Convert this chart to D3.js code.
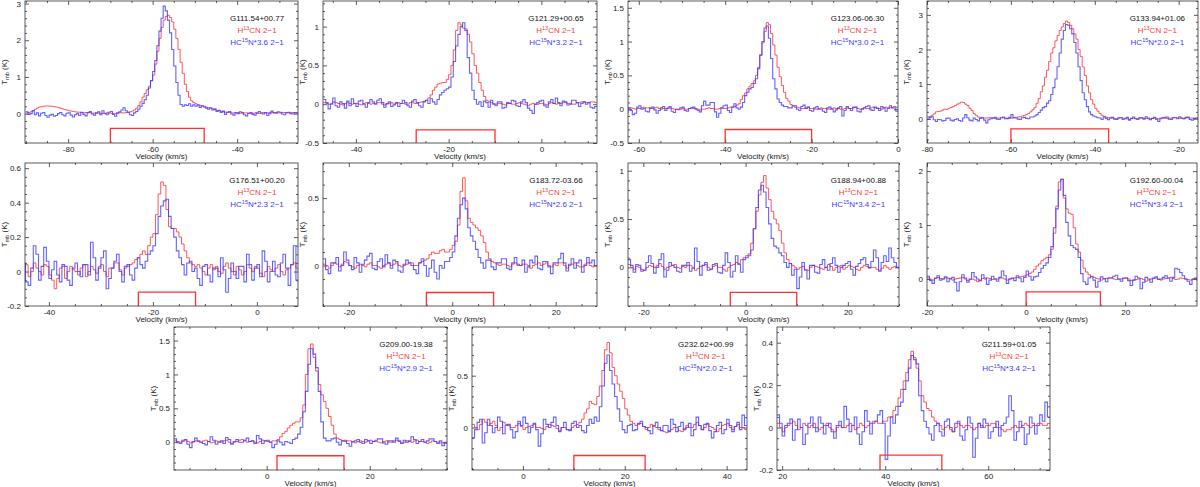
<!DOCTYPE html>
<html>
<head>
<meta charset="utf-8">
<script src="https://cdn.jsdelivr.net/npm/d3@7"></script>
<style>
  body { margin: 0; background: #fff; }
  svg { display: block; }
  text { font-family: "Liberation Sans", Arial, sans-serif; }
</style>
</head>
<body>
<svg></svg>
<script>
// source names and HC15N scale factors
let sources = ["G111.54+00.77","G121.29+00.65","G123.06-06.30","G133.94+01.06",
               "G176.51+00.20","G183.72-03.66","G188.94+00.88","G192.60-00.04",
               "G209.00-19.38","G232.62+00.99","G211.59+01.05"];
let scaleFactors = ["3.6","3.2","3.0","2.0","2.3","2.6","3.4","3.4","2.9","2.0","3.4"];

// first channel edge (km/s) and channel width (km/s)
let vStart = [-90,-47,-63,-80,-45,-25,-23,-20,-18,-10,19];
let chanWidth = 0.5;

// H13CN 2-1 spectra (K)
let h13cn = [
  [0.02,0.03,0.05,0.08,0.12,0.15,0.18,0.19,0.2,0.21, 0.21,0.2,0.2,0.19,0.18,0.17,0.15,0.13,0.11,0.1,
   0.08,0.07,0.06,0.05,0.04,0.04,0.03,0.02,0.03,0.02, 0.03,0.01,0.02,0.01,0.02,0,0.01,0,0.02,0.01,
   0.01,0,0,0.01,0.03,0.02,0.02,0.03,0.04,0.05, 0.07,0.1,0.15,0.22,0.32,0.45,0.55,0.65,0.75,0.9,
   1.05,1.35,1.7,2.05,2.35,2.55,2.65,2.68,2.62,2.5, 2.3,2.05,1.75,1.4,1.1,0.8,0.6,0.45,0.35,0.3,
   0.27,0.25,0.23,0.22,0.2,0.18,0.16,0.15,0.13,0.11, 0.09,0.08,0.06,0.05,0.04,0.04,0.03,0.02,0.02,0.03,
   0.03,0.01,0.01,0.02,0.02,0.01,0,0.01,0.02,0.01, 0.01,0.02,0.03,0.02,0.02,0.03,0.04,0.03,0.03,0.02,
   0.02,0.03,0.03,0.02,0.02,0.03,0.03,0.02,0.02,0.02],
  [0.02,0.01,0,0.01,0.03,0.02,0.01,0,-0.01,0.01, 0.02,0.01,0,0.01,0.01,0,-0.01,0.01,0.02,0.01,
   0,0.01,0.01,0.02,0.02,0,-0.01,0,0.01,0.02, 0,0.01,0.02,0.01,0.01,0,0,0.02,0.02,0.01,
   0.01,0.02,0.03,0.04,0.05,0.08,0.12,0.18,0.22,0.26, 0.27,0.28,0.28,0.32,0.38,0.5,0.7,0.95,1.05,1.02,
   0.98,0.97,0.9,0.8,0.65,0.5,0.4,0.28,0.18,0.1, 0.05,0.03,0.02,0.01,0,0.01,0.01,0,-0.01,0.01,
   0.01,0,0,0.01,0.02,0.01,0,-0.01,-0.02,0, 0.01,0,0,0.01,0.01,0,-0.01,0.01,0.02,0.01,
   0,0.01,0.01,0.02,0.02,0.01,0.01,0,0,0.02, 0.02,0.03,0.03,0.02,0.02,0.03,0.03,0.02],
  [0.01,0.02,0.02,0.01,0,0.01,0.01,0.02,0.03,0.02, 0.02,0.01,0.01,0.02,0.03,0.01,0,0.01,0.01,0.02,
   0.02,0.01,0,0,-0.01,0,0.01,0,0,0.01, 0.02,0.01,0.01,0,-0.01,0,0,0.01,0.02,0.01,
   0.01,0,0,0.01,0.02,0.01,0.01,0.02,0.03,0.03, 0.04,0.06,0.08,0.14,0.2,0.24,0.3,0.34,0.38,0.42,
   0.5,0.62,0.8,0.98,1.15,1.28,1.25,1.12,0.95,0.8, 0.62,0.48,0.35,0.25,0.16,0.12,0.07,0.05,0.03,0.03,
   0.02,0.01,0.01,0.02,0.03,0.01,0.01,0,0,0.01, 0.02,0.01,0.01,0,0,0.01,0.02,0.01,0.01,0,
   0,0.01,0.02,0.01,0.01,0.02,0.03,0.01,0,0.01, 0.02,0.01,0.01,0.02,0.03,0.02,0.02,0.01,0,0.02,
   0.03,0.02,0.02,0.03,0.04,0.03],
  [0.05,0.06,0.1,0.14,0.2,0.21,0.22,0.25,0.28,0.27, 0.3,0.32,0.35,0.38,0.42,0.45,0.48,0.47,0.42,0.38,
   0.3,0.24,0.15,0.1,0.05,0.04,0.03,0.02,0.02,0.03, 0.03,0.02,0.01,0.02,0.02,0.03,0.03,0.02,0,0.01,
   0.02,0.03,0.04,0.05,0.06,0.08,0.1,0.12,0.15,0.2, 0.26,0.32,0.45,0.58,0.78,0.95,1.2,1.4,1.65,1.9,
   2.05,2.25,2.4,2.55,2.65,2.75,2.82,2.78,2.7,2.6, 2.45,2.3,2.0,1.8,1.5,1.25,0.95,0.75,0.55,0.42,
   0.3,0.22,0.15,0.1,0.07,0.05,0.03,0.03,0.02,0.01, 0,0.02,0.03,0.02,0.01,0,-0.02,0,0.02,0.01,
   0,0.02,0.03,0.01,0.01,0,-0.01,0.01,0.02,0.01, 0,0.02,0.03,0.02,0.01,0.02,0.02,0.03,0.04,0.02,
   0.02,0.01,0,0.02,0.03,0.02,0.02,0.01,0.01,0.02, 0.02,0.01],
  [0.02,0.04,-0.03,0,0.05,0.02,0,-0.02,0.04,0.03, -0.02,-0.05,-0.1,-0.04,0.02,0.03,-0.04,0,0.03,0.01,
   0,-0.02,0.02,0.04,-0.03,0,0.03,0.01,-0.01,0.03, 0.04,0,-0.03,0.02,0.02,0.05,0.05,0.01,-0.02,0.02,
   0.03,0.04,0.05,0.07,0.08,0.1,0.12,0.1,0.15,0.2, 0.22,0.33,0.45,0.52,0.5,0.36,0.26,0.25,0.25,0.23,
   0.2,0.16,0.12,0.08,0.05,0.04,0.03,0.04,0.02,0, -0.02,0.02,0.04,0.01,0.03,0,-0.01,0.03,0.05,0.02,
   0,-0.02,0.03,0.01,-0.02,0,0.04,0.02,0,0.03, 0.02,-0.01,-0.03,0,0.03,0.01,0,0.02,0.04,0,
   -0.02,0.01,0.02,0.04,0.05,0.02],
  [0.01,0,-0.02,0,0.02,0.01,-0.01,0.01,0.03,0.02, 0,-0.01,-0.02,0,0.01,0,-0.01,0.01,0.02,0,
   0,-0.01,-0.02,0,0.01,0.02,0,0.01,0.02,0, -0.01,0,0.01,0.02,0.02,0,0,0.02,0.03,0.04,
   0.05,0.08,0.1,0.09,0.09,0.11,0.12,0.1,0.1,0.12, 0.15,0.18,0.3,0.55,0.65,0.48,0.35,0.32,0.3,0.28,
   0.26,0.22,0.17,0.1,0.05,0.03,0.02,0.01,0,0.01, 0.01,0,-0.01,0.01,0.02,0,0,0.01,0.01,0,
   -0.02,0,0.01,0.02,0,0.01,0.02,0,-0.01,0.01, 0,0.02,0.02,0,-0.02,0,0.01,0.02,0,-0.01,
   -0.01,0.01,0.02,0,-0.01,0],
  [0.03,0,-0.02,0.01,0,-0.02,-0.03,0,0.02,0.01, 0,0.02,0.04,0.01,-0.02,0,0.01,0.02,0.03,0,
   -0.01,0.01,0,0.02,0.02,0,-0.03,-0.01,0.01,0.02, 0.03,0,-0.02,0.01,0.02,0,0,-0.02,-0.04,0,
   0.02,0.03,0.05,0.04,0.08,0.1,0.12,0.14,0.25,0.4, 0.58,0.75,0.88,0.95,0.82,0.7,0.58,0.5,0.45,0.38,
   0.25,0.15,0.08,0.04,0.02,0,-0.02,0,0.01,-0.02, -0.03,0,0.02,0.01,0,-0.01,-0.02,0,0.03,0.01,
   -0.03,0,0.01,0.02,-0.02,0,0.02,0.01,0,-0.02, -0.03,0,0.02,0.01,-0.01,0,0,-0.02,-0.03,-0.01,
   0.02,0,-0.02,0,0.01,0],
  [0.02,0,-0.02,0.01,0.03,0.01,0,0.02,0.02,0, -0.02,0,0.01,0.02,0.03,0,-0.03,-0.01,0,-0.02,
   -0.05,-0.02,0.01,0,0.02,0.01,-0.01,0,0,0.02, 0.02,0,-0.02,0,0.01,0.02,0.03,0.04,0.05,0.06,
   0.08,0.1,0.13,0.18,0.24,0.28,0.34,0.37,0.4,0.45, 0.55,0.85,1.35,1.8,1.85,1.5,1.3,1.22,1.2,0.95,
   0.65,0.5,0.35,0.2,0.13,0.08,0.04,0.03,0.01,0, -0.02,0,0.01,0.02,0.02,0,-0.01,0,0,0.01,
   0.02,0,-0.03,-0.02,-0.01,0,0.01,-0.01,-0.04,-0.02, 0,0.01,0.02,0,-0.02,0,0.01,0.02,0.03,0.01,
   -0.01,0,0.02,0.01,0,-0.01,-0.02,0,0.01,0],
  [0.02,0.01,0,0.01,0.03,0.01,-0.01,0,0.02,0.01, 0,0.02,0.03,0.01,-0.01,0,0.02,0.01,0,0.02,
   0.03,0,-0.02,0,0.01,0.03,0.04,0.02,0,0.01, 0.02,0,-0.01,0.01,0.03,0.02,0.01,0,0.02,0.02,
   0.04,0.08,0.13,0.16,0.21,0.25,0.28,0.3,0.3,0.36, 0.55,1.0,1.38,1.45,1.25,1.05,0.85,0.7,0.6,0.5,
   0.38,0.25,0.12,0.06,0.04,0.02,0.01,0.02,0.02,0, -0.01,0.01,0.02,0.01,0,0.02,0.03,0.01,0.01,0,
   -0.01,0.01,0.02,0,0,0.02,0.03,0.01,-0.01,0, 0.02,0.01,0,0.02,0.03,0.01,0.01,0,-0.02,0,
   0.02,0.01,0,-0.01,-0.01,-0.02],
  [0.03,0,-0.02,0.03,0.08,0.05,0.02,0.04,0.06,0.02, -0.03,0,0.05,0.03,0.02,0,0,0.02,0.04,0.01,
   -0.02,0,0.01,0.02,0.03,0,0,-0.01,-0.02,0.01, 0.03,0.02,0.01,-0.01,-0.03,0,0,-0.02,-0.02,0,
   0.02,0.03,0.05,0.08,0.14,0.18,0.25,0.23,0.22,0.3, 0.4,0.55,0.75,0.82,0.72,0.58,0.5,0.42,0.35,0.28,
   0.18,0.12,0.06,0.04,0.02,0.03,0.04,0.01,-0.02,0, 0.03,0.01,0,-0.02,-0.03,-0.04,-0.05,-0.03,-0.02,0,
   0,-0.03,-0.04,-0.01,0.02,0,0,0.03,0.05,0.02, -0.02,0,0.03,0.01,0,-0.02,-0.04,-0.01,0.02,0.03,
   0.04,0,-0.02,0.01,0.03,0,0,-0.02],
  [0.02,0,-0.02,0,0.01,0.02,0.03,0.01,-0.01,0, 0.02,0.01,0,0.01,0.02,0,-0.01,0,0.01,0.02,
   0,-0.01,-0.02,0,0.01,0,0,0.01,0.02,0.01, -0.01,0,0.02,0.01,0,0.01,0.02,0.03,0.03,0.02,
   0.02,0.03,0.03,0.05,0.05,0.08,0.1,0.14,0.18,0.22, 0.26,0.32,0.36,0.33,0.28,0.22,0.15,0.12,0.09,0.08,
   0.05,0.03,0.02,0.01,-0.01,0,0.01,-0.01,-0.02,0, 0.02,0.01,0,0.01,0.01,0,-0.01,0,0.02,0.01,
   0,0.01,0.01,0.02,0.02,0,0,-0.01,-0.02,-0.01, -0.01,0,0.01,0,0,0.01,0.02,0.01,0,0.01,
   0.01,0.02,0.02,0.01,0.01,0.02]
];

// HC15N 2-1 spectra, already multiplied by the scale factor (K)
let hc15n = [
  [0.05,-0.02,0,0.08,-0.03,0.02,-0.06,0.01,0.03,-0.05, -0.1,-0.04,-0.02,-0.07,-0.05,0,0.03,-0.03,-0.06,0.01,
   0.02,-0.04,-0.09,-0.03,0,-0.05,0.04,-0.02,-0.06,0.03, 0.06,-0.01,-0.04,0.02,0.05,-0.03,0.08,0.01,-0.03,0.04,
   0.06,-0.02,-0.07,0.02,0.05,0.1,0.16,0.08,0.04,-0.03, -0.05,0.02,0.06,0.12,0.2,0.28,0.38,0.5,0.7,0.9,
   1.15,1.45,1.85,2.25,2.6,2.93,2.8,2.55,2.2,1.75, 1.3,0.85,0.5,0.25,0.2,0.24,0.22,0.27,0.2,0.24,
   0.2,0.23,0.17,0.21,0.18,0.15,0.12,0.16,0.1,0.13, 0.06,0.09,0.03,0.07,-0.02,0.04,0.06,-0.01,-0.04,0.02,
   0,0.05,0.03,-0.03,-0.06,0.01,0.03,-0.02,-0.04,0.02, 0.06,0.01,-0.01,0.03,-0.05,0,0.07,0.02,0.01,0.05,
   0.04,-0.01,-0.03,0.03,0.04,0,-0.01,0.03,0.02,0],
  [0.06,0.02,-0.06,0,0.08,-0.02,-0.04,0.03,0.01,-0.05, 0.04,-0.02,0.07,0.01,-0.03,0.04,0.05,0,-0.04,0.02,
   0.06,0.03,0,0.05,0.07,0.02,-0.04,0.01,0.03,-0.03, -0.01,0.02,-0.03,0.01,0.05,0.02,-0.02,-0.04,0.04,0.06,
   0.02,-0.02,-0.04,0.03,0.05,0.01,0.07,0.03,0,0.06, 0.12,0.15,0.18,0.2,0.22,0.35,0.55,0.75,0.9,1.0,
   1.05,0.95,0.6,0.4,0.18,0.06,0,0.03,-0.03,0.04, 0.02,-0.04,0.05,0,-0.02,0.03,0.03,-0.05,-0.04,0.02,
   0.01,0.05,0.04,-0.02,-0.03,0.03,0.06,0.02,-0.05,-0.08, -0.12,0,0.02,0.04,0.05,-0.02,-0.04,0.03,0.06,0.01,
   0.08,0.02,-0.02,0.04,0.03,-0.01,0,0.05,0.05,0.02, -0.03,0.01,0.03,0,0.02,-0.04,-0.05,-0.03],
  [-0.05,0.02,-0.02,-0.08,-0.06,0.03,0.05,0,0.01,-0.03, -0.04,0.02,0.03,-0.01,-0.06,-0.02,0.02,0.04,-0.02,0.01,
   0.04,-0.03,-0.05,0,0,0.02,0.03,-0.02,-0.03,0.01, 0.02,0.03,0,-0.02,-0.04,0.05,0.12,0.06,0.06,0.1,
   0.1,-0.04,-0.12,-0.06,0.02,0.05,0.06,-0.02,-0.05,0.03, 0.08,0.02,0,0.03,0.1,0.2,0.25,0.3,0.32,0.38,
   0.45,0.6,0.8,1.0,1.2,1.23,1.05,0.75,0.45,0.3, 0.15,0.1,0.06,0.04,0.04,0.02,0.02,0.05,0.05,0,
   -0.02,0.04,0.06,0.01,0.03,-0.02,-0.03,0.02,0.04,0, 0,-0.03,-0.05,0.02,0.03,0,-0.04,-0.01,0.02,0.04,
   -0.1,-0.02,0.04,0.01,-0.02,0.03,0.03,-0.03,-0.04,0, 0.02,0.04,0.05,-0.01,-0.02,0.03,0.01,-0.02,0.04,0.02,
   -0.03,0.01,0.05,0.02,0.02,-0.03],
  [-0.02,0.04,0.06,-0.03,-0.08,-0.02,-0.03,-0.06,-0.05,0.01, 0.02,-0.04,-0.06,-0.02,0,-0.05,-0.07,0.02,0.12,0.03,
   -0.04,-0.06,0.02,-0.02,-0.06,0.01,0.03,-0.04,-0.12,-0.03, 0,0.02,0.04,-0.01,-0.02,0.03,0.05,0,0.01,0.04,
   0.12,0.03,0.02,-0.01,-0.02,0.03,0.04,0.01,0,0.05, 0.05,0.08,0.12,0.18,0.25,0.32,0.35,0.45,0.52,0.7,
   0.9,1.15,1.5,1.9,2.3,2.55,2.72,2.7,2.6,2.45, 2.2,1.9,1.5,1.1,0.75,0.55,0.35,0.2,0.12,0.08,
   0.06,0.03,0.02,-0.02,0.05,0.01,-0.03,0.02,0.04,-0.01, -0.02,0.03,0.03,-0.02,0,0.04,-0.04,0.01,0.05,0,
   -0.02,0.03,0.02,-0.01,0.06,0.02,-0.03,0.01,0.04,-0.02, -0.08,0,0.02,0.04,0.05,-0.01,-0.02,0.03,0.03,0,
   0.06,0.02,0,0.04,0.05,-0.02,-0.04,0.01,0.02,0.03, 0,0.02],
  [0.05,-0.06,-0.08,0.02,0.15,0.1,-0.05,0.03,0.14,0.06, -0.04,0.01,0.06,-0.02,-0.06,0.04,0.03,-0.05,-0.08,0.02,
   0.05,0,-0.03,0.04,0.04,-0.02,0.17,0.08,-0.05,0.02, 0.08,0.12,-0.1,-0.04,0.02,0.06,0.1,0,-0.06,0.03,
   0.04,-0.02,-0.05,0.02,0.08,0.04,0.02,0.06,0.1,0.12, 0.15,0.22,0.32,0.38,0.41,0.42,0.32,0.25,0.2,0.12,
   0.08,0.04,-0.02,0.05,0.06,0,0.02,-0.04,-0.08,0.03, 0.04,-0.02,-0.06,0.02,0.02,-0.03,0.08,0.01,-0.12,-0.04,
   0.05,0,-0.04,0.03,0.03,-0.06,0.1,0.04,-0.05,0.02, 0.04,-0.03,0.12,0.06,-0.06,0,0.06,-0.02,-0.03,0.05,
   0.1,0.02,-0.08,0.04,0.15,-0.05],
  [0.05,-0.03,-0.06,0.02,0.02,0.06,-0.04,0,0.1,0.04, 0,-0.03,0.06,0.02,-0.05,0.01,0.04,0.07,0.09,-0.02,
   -0.03,0.03,0.05,-0.01,0.08,0.02,-0.02,0.04,0.03,-0.04, -0.05,0.01,0.04,0.02,0,-0.03,-0.06,0.02,0.05,0,
   -0.08,-0.02,0.04,-0.05,-0.1,0,-0.02,0.03,0.03,0.06, 0.1,0.22,0.35,0.45,0.5,0.42,0.28,0.22,0.18,0.12,
   0.06,0.02,-0.02,0.04,0.04,-0.01,-0.03,0.02,0.02,0.05, 0.05,-0.02,-0.03,0.02,0.06,0.01,0,0.04,-0.05,-0.01,
   0.04,0.02,0.07,-0.02,-0.03,0.03,0.03,-0.01,-0.06,0.02, 0.02,0.05,0.09,0.02,-0.04,0.01,0.05,-0.02,0.02,0.04,
   -0.05,0,0.06,0.02,0.04,0],
  [0.08,0.02,-0.05,0.03,0.02,-0.04,-0.03,0.05,0.12,0.04, -0.06,0,0.08,0.14,-0.1,-0.03,0.05,0.02,0,-0.04,
   -0.05,0.02,0.02,0.05,-0.04,-0.01,0.2,0.06,-0.08,0.02, 0.05,-0.03,-0.02,0.03,0.04,-0.05,-0.06,0.02,0.15,0.05,
   -0.1,-0.04,0.12,0.03,-0.05,0.08,0.1,0.12,0.18,0.4, 0.62,0.8,0.85,0.78,0.62,0.45,0.3,0.22,0.2,0.15,
   0.12,0.05,0,0.04,-0.08,-0.02,-0.22,-0.1,0.05,-0.03, -0.12,0.02,0.02,-0.05,-0.06,0.03,0.08,0,-0.03,0.04,
   0.1,0.02,-0.05,0,0.02,0.04,0.06,-0.02,-0.08,0.01, 0.04,0.08,0.1,0.03,0,0.06,0.18,0.1,-0.04,0.05,
   0.12,0.06,0.2,0.1,0.05,0],
  [0.05,-0.03,-0.08,0.02,0.06,-0.02,0,0.04,-0.05,0.01, 0.03,-0.06,-0.22,-0.05,0.08,0.02,-0.06,0,0.12,0.04,
   0,-0.03,0.08,0.02,-0.1,-0.02,0.05,0,-0.04,0.03, 0.15,0.06,-0.08,0,0.02,-0.03,0.06,0.02,-0.05,0.03,
   0.15,0.05,-0.02,0.04,0.05,0.12,0.2,0.25,0.3,0.4, 0.6,0.95,1.3,1.65,1.85,1.55,1.05,0.8,0.62,0.58,
   0.55,0.4,0.1,-0.05,-0.1,0.02,0.05,-0.02,-0.15,-0.04, 0.04,0.01,-0.05,0.02,0.02,0.05,0.07,0,-0.04,0.02,
   0.02,-0.03,-0.12,-0.02,0.05,0.02,-0.18,-0.06,0.03,0, -0.06,0.02,0.04,-0.01,0,0.03,0.06,0.02,-0.04,0.03,
   0.2,0.18,0.12,0.06,0,-0.04,-0.1,0,0.02,-0.02],
  [0.05,0,-0.02,0.03,0.04,-0.03,-0.08,0.01,0.06,0.02, 0,-0.02,-0.04,0.01,0.08,0.03,-0.03,0,0.02,-0.02,
   0.07,0.04,-0.03,0.01,0.04,0,0,0.03,0.06,0.01, 0.02,-0.02,0.1,0.05,-0.02,0.02,0.03,0,-0.08,-0.03,
   0.02,0,-0.04,0.01,0,-0.02,0.04,0.06,0.12,0.22, 0.45,0.75,1.15,1.38,1.3,1.1,0.75,0.3,0.06,0.02,
   0.02,0.05,0.06,0,-0.04,0.02,0.03,-0.02,-0.06,0.01, 0.02,0.04,0,-0.02,0.04,0.02,-0.02,0.01,0.03,0.05,
   0.05,-0.01,-0.03,0.02,0.02,0,0.06,0.02,-0.02,0.03, 0,0.02,0.08,0.04,-0.02,0.01,0.04,0,0.02,0.05,
   0.05,0.01,-0.02,0.02,-0.05,0],
  [-0.1,-0.02,0.05,0.08,-0.15,-0.05,0.08,0.02,-0.05,0, 0.1,0.06,-0.06,0.02,0.03,-0.02,-0.1,-0.04,0.06,0.02,
   0.1,0.04,-0.05,0,0.04,-0.02,-0.18,-0.06,0.08,0.03, 0,0.05,0.1,0.02,-0.04,0,0.05,-0.02,-0.03,0.04,
   0.06,0,0.02,-0.03,-0.05,0.02,0.08,0.04,0.1,0.06, 0.2,0.4,0.62,0.7,0.55,0.42,0.3,0.18,0.06,-0.02,
   -0.05,0.02,0.03,-0.03,-0.02,0.04,0.06,0.01,0,-0.03, -0.06,0.02,0.05,0,-0.03,0.02,0.02,-0.04,0.08,0.03,
   -0.04,0.01,0.05,-0.02,0,0.04,-0.08,-0.02,0.1,0.02, -0.02,0.03,0.04,-0.03,-0.1,-0.04,0.02,0.05,-0.06,-0.02,
   0.08,0.02,-0.04,0.01,0.05,-0.02,0.12,0.02],
  [0.06,0.02,-0.04,0.01,0.02,0.04,-0.06,-0.01,0.04,0, -0.08,-0.03,0.02,0.05,0,-0.02,0.05,0.02,-0.03,0.01,
   0.02,-0.02,-0.05,0.01,0.03,0,0.1,0.04,-0.02,0.01, 0.05,-0.03,-0.08,-0.02,0.08,0.03,-0.03,0.02,0.03,0.06,
   0.08,0.02,-0.15,-0.04,0.05,0.02,0.06,0.1,0.12,0.18, 0.22,0.28,0.34,0.32,0.3,0.15,0.08,0.03,0,-0.03,
   -0.06,0.01,0.02,-0.02,-0.04,0.03,0.04,0,-0.02,0.02, 0.03,-0.04,-0.06,-0.01,0.05,0.02,-0.14,-0.05,0.02,0,
   0.04,0.02,-0.05,-0.02,0,0.03,-0.04,0.01,0.02,0.05, 0.15,0.08,-0.06,-0.02,0.03,0,-0.08,-0.03,0.05,0.02,
   -0.03,0.01,0.06,0.03,0.12,0.05]
];

// axis ranges and tick steps
let xDomains = [[-90.2,-25.6],[-47.1,12],[-62.5,0],[-80,-15.4],[-44.6,7.9],[-25,28],
                [-23,30],[-20,34.5],[-18,35],[-10,44],[19,72]];
let yDomains = [[-0.8,3.07],[-0.5,1.33],[-0.5,1.6],[-0.7,3.4],[-0.2,0.63],[-0.3,0.76],
                [-0.4,1.08],[-0.5,2.15],[-0.41,1.7],[-0.41,0.97],[-0.2,0.474]];
let yTickStep = [1,0.5,0.5,1,0.2,0.5,0.5,1,0.5,0.5,0.2];
let xTickStep = 20;

// velocity window [v1, v2] and marker height (K)
let windows = [[-70,-47.8,-0.40],[-27,-10,-0.33],[-40,-20,-0.30],[-60,-36.7,-0.29],
               [-22.8,-11.8,-0.12],[-5,8,-0.2],[-3,10,-0.26],[0,15,-0.24],
               [2,15,-0.2],[10,24,-0.27],[39,51,-0.13]];

// panel frames in pixels: left, top, right, bottom
let frames = [[25,1,298,143],[323,1,597,143],[628,1,898,143],[927,1,1198,143],
              [25,163,298,306],[323,163,597,306],[628,163,899,306],[927,163,1197,306],
              [174,327,447,470],[472,327,747,470],[777,327,1050,470]];

let width = 1200, height = 487,
    red = "#ff3b3b", blue = "#3b3bff", ink = "#333";

let svg = d3.select("svg")
            .attr("width", width)
            .attr("height", height);

let fmt = d => String(+d.toFixed(2));

sources.forEach((name, k) => {
  let [l, t, r, b] = frames[k],
      xScale = d3.scaleLinear().domain(xDomains[k]).range([l, r]),
      yScale = d3.scaleLinear().domain(yDomains[k]).range([b, t]),
      [x0, x1] = xDomains[k], [y0, y1] = yDomains[k],
      ys = yTickStep[k],
      xMajor = d3.range(Math.ceil(x0 / xTickStep) * xTickStep, x1 + 1e-9, xTickStep),
      xMinor = d3.range(Math.ceil(x0 / 5) * 5, x1 + 1e-9, 5).filter(v => v % xTickStep !== 0),
      yMajor = d3.range(Math.ceil(y0 / ys - 1e-9), Math.floor(y1 / ys + 1e-9) + 1).map(i => +(i * ys).toFixed(3)),
      ym = ys / (ys === 0.2 ? 4 : 5),
      yMinor = d3.range(Math.ceil(y0 / ym - 1e-9), Math.floor(y1 / ym + 1e-9) + 1)
                 .map(i => +(i * ym).toFixed(3))
                 .filter(v => !yMajor.some(m => Math.abs(m - v) < 1e-6));

  let g = svg.append("g");

  g.append("clipPath").attr("id", "clip" + k)
    .append("rect")
    .attr("x", l).attr("y", t)
    .attr("width", r - l).attr("height", b - t);

  // axes with ticks pointing inward on all four sides
  let axes = [
    [d3.axisBottom(xScale).tickValues(xMajor).tickSize(-4).tickPadding(3).tickFormat(fmt), `translate(0,${b})`],
    [d3.axisBottom(xScale).tickValues(xMinor).tickSize(-2).tickFormat(""), `translate(0,${b})`],
    [d3.axisTop(xScale).tickValues(xMajor).tickSize(-4).tickFormat(""), `translate(0,${t})`],
    [d3.axisTop(xScale).tickValues(xMinor).tickSize(-2).tickFormat(""), `translate(0,${t})`],
    [d3.axisLeft(yScale).tickValues(yMajor).tickSize(-4).tickPadding(4).tickFormat(fmt), `translate(${l},0)`],
    [d3.axisLeft(yScale).tickValues(yMinor).tickSize(-2).tickFormat(""), `translate(${l},0)`],
    [d3.axisRight(yScale).tickValues(yMajor).tickSize(-4).tickFormat(""), `translate(${r},0)`],
    [d3.axisRight(yScale).tickValues(yMinor).tickSize(-2).tickFormat(""), `translate(${r},0)`]
  ];
  axes.forEach(([ax, tr]) => {
    let a = g.append("g").attr("transform", tr).call(ax);
    a.select(".domain").remove();
    a.selectAll("line").attr("stroke", ink).attr("stroke-width", 0.8);
    a.selectAll("text")
      .attr("fill", "#222")
      .style("font-size", "8px")
      .style("font-family", "'Liberation Sans', Arial, sans-serif");
  });

  let line = d3.line()
    .curve(d3.curveStepAfter)
    .x(d => xScale(d[0]))
    .y(d => yScale(d[1]));

  let steps = vals => {
    let pts = vals.map((v, i) => [vStart[k] + i * chanWidth, v]);
    pts.push([vStart[k] + vals.length * chanWidth, vals[vals.length - 1]]);
    return pts;
  };

  let plot = g.append("g").attr("clip-path", `url(#clip${k})`);

  plot.append("path")
    .attr("d", line(steps(h13cn[k])))
    .attr("fill", "none")
    .attr("stroke", red)
    .attr("stroke-width", 1)
    .attr("stroke-opacity", 0.85);

  plot.append("path")
    .attr("d", line(steps(hc15n[k])))
    .attr("fill", "none")
    .attr("stroke", blue)
    .attr("stroke-width", 1.1)
    .attr("stroke-opacity", 0.8);

  // velocity window marker
  let [w1, w2, wh] = windows[k];
  g.append("path")
    .attr("d", `M${xScale(w1)},${b}V${yScale(wh)}H${xScale(w2)}V${b}`)
    .attr("fill", "none")
    .attr("stroke", "#ff3030")
    .attr("stroke-width", 1.3);

  // frame
  g.append("rect")
    .attr("x", l).attr("y", t)
    .attr("width", r - l).attr("height", b - t)
    .attr("fill", "none")
    .attr("stroke", ink)
    .attr("stroke-width", 0.8);

  // axis titles
  g.append("text")
    .attr("x", (l + r) / 2)
    .attr("y", b + 15.5)
    .attr("text-anchor", "middle")
    .style("font-size", "8px")
    .attr("fill", "#222")
    .text("Velocity (km/s)");

  let yt = g.append("text")
    .attr("transform", `translate(${l - 18},${(t + b) / 2}) rotate(-90)`)
    .attr("text-anchor", "middle")
    .style("font-size", "8px")
    .attr("fill", "#222");
  yt.append("tspan").text("T");
  yt.append("tspan").attr("dy", 2).style("font-size", "5.5px").text("mb");
  yt.append("tspan").attr("dy", -2).text(" (K)");

  // labels
  let cx = l + 0.85 * (r - l);
  g.append("text")
    .attr("x", cx).attr("y", t + 20)
    .attr("text-anchor", "middle")
    .style("font-size", "8px")
    .attr("fill", "#111")
    .text(name);

  let l1 = g.append("text")
    .attr("x", cx).attr("y", t + 32)
    .attr("text-anchor", "middle")
    .style("font-size", "8px")
    .attr("fill", red);
  l1.append("tspan").text("H");
  l1.append("tspan").attr("dy", -3).style("font-size", "5.5px").text("13");
  l1.append("tspan").attr("dy", 3).text("CN 2\u22121");

  let l2 = g.append("text")
    .attr("x", cx).attr("y", t + 44)
    .attr("text-anchor", "middle")
    .style("font-size", "8px")
    .attr("fill", blue);
  l2.append("tspan").text("HC");
  l2.append("tspan").attr("dy", -3).style("font-size", "5.5px").text("15");
  l2.append("tspan").attr("dy", 3).text(`N*${scaleFactors[k]} 2\u22121`);
});
</script>
</body>
</html>
